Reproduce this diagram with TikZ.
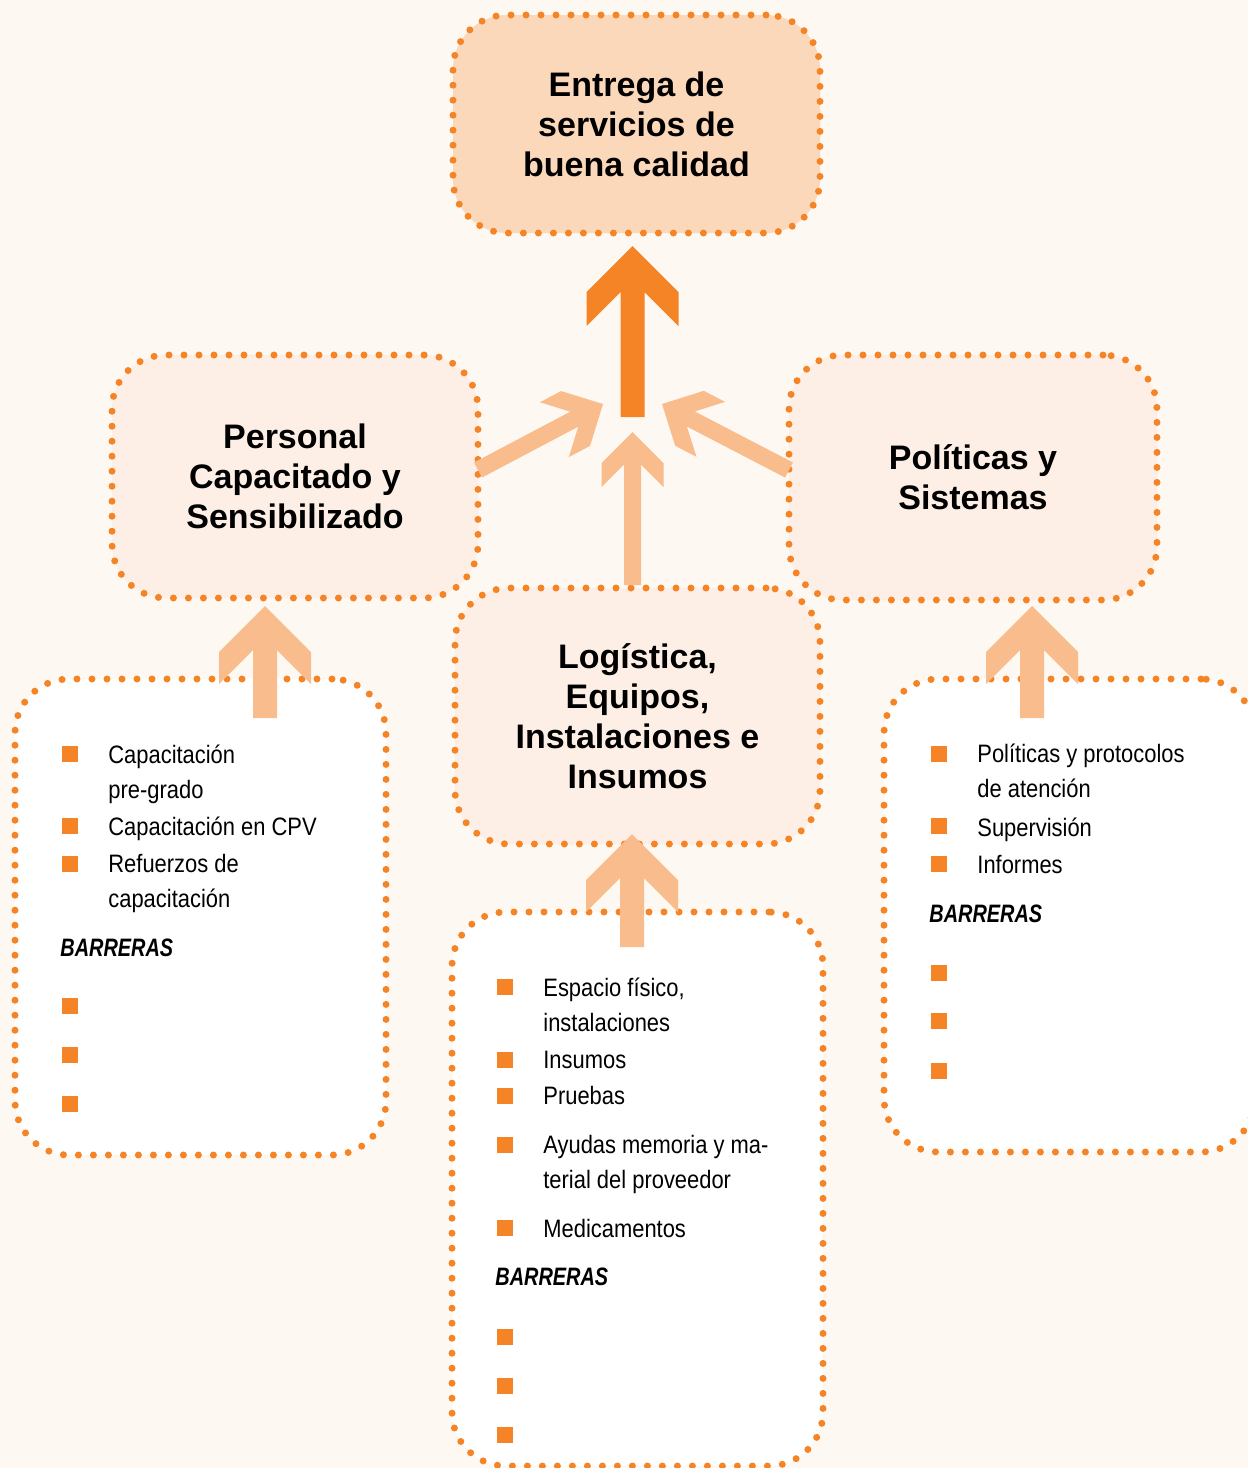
\documentclass[tikz,border=0pt]{standalone}
\usepackage{fontspec}
\setmainfont{Liberation Sans}
\newfontfamily\narrowfont[FakeStretch=0.87]{Liberation Sans}
\newfontfamily\barfont[FakeStretch=0.79]{Liberation Sans}
\usetikzlibrary{calc}

\definecolor{bgcream}{HTML}{FEF8F2}
\definecolor{dotorange}{HTML}{F58426}
\definecolor{darkarrow}{HTML}{F58426}
\definecolor{lightarrow}{HTML}{F9BD8D}
\definecolor{goalfill}{HTML}{FCD8BB}
\definecolor{areafill}{HTML}{FDEFE5}

\tikzset{
  dotbox/.style={draw=dotorange, line width=3.5pt, dash pattern=on 0pt off 7.5pt,
    line cap=round, rounded corners=27pt, inner sep=0pt, align=center},
  goalbox/.style={dotbox, fill=goalfill, font=\fontsize{17}{20}\selectfont\bfseries},
  areabox/.style={dotbox, fill=areafill, font=\fontsize{17}{20}\selectfont\bfseries},
  listbox/.style={dotbox, fill=white, minimum width=185.5pt},
  entry/.style={anchor=north west, inner sep=0pt, align=left,
    font=\narrowfont\fontsize{12.6}{17.5}\selectfont, execute at begin node=\strut},
  barrier/.style={entry, font=\barfont\fontsize{12.6}{17.5}\selectfont\bfseries\itshape},
  sq/.style={fill=dotorange, minimum size=8pt, inner sep=0pt}
}

% chevron arrow: colour, tail, tip, half shaft, half head, arm
\newcommand\chevron[6]{%
  \fill[#1] (#3)
    -- ($(#3)!#5!(#2)!#5!90:(#2)$)
    -- ($(#3)!#5+#6!(#2)!#5!90:(#2)$)
    -- ($(#3)!#4+#6!(#2)!#4!90:(#2)$)
    -- ($(#2)!#4!-90:(#3)$)
    -- ($(#2)!#4!90:(#3)$)
    -- ($(#3)!#4+#6!(#2)!#4!-90:(#2)$)
    -- ($(#3)!#5+#6!(#2)!#5!-90:(#2)$)
    -- ($(#3)!#5!(#2)!#5!-90:(#2)$)
    -- cycle;}

\begin{document}
\begin{tikzpicture}[x=0.5pt,y=-0.5pt]
\useasboundingbox (0,0) rectangle (1248,1468);
\clip (0,0) rectangle (1248,1468);
\fill[bgcream] (0,0) rectangle (1248,1468);

% boxes
\node (goal) at (636.5,124) [goalbox,minimum width=183.5pt,minimum height=109pt] {Entrega de\\servicios de\\buena calidad};
\node (pers) at (295,476.5) [areabox,minimum width=183pt,minimum height=121.5pt] {Personal\\Capacitado y\\Sensibilizado};
\node (pol) at (973,477.5) [areabox,minimum width=184pt,minimum height=122.5pt] {Políticas y\\Sistemas};
\node (log) at (637.5,716) [areabox,minimum width=182.5pt,minimum height=128pt] {Logística,\\Equipos,\\Instalaciones e\\Insumos};
\node (plist) at (200.5,917) [listbox,minimum height=238pt] {};
\node (llist) at (637.5,1189) [listbox,minimum height=277pt] {};
\node (rlist) at (1069.5,915.5) [listbox,minimum height=236.5pt] {};

% arrows
\coordinate (hub) at (632.5,417);
\coordinate (goaltip) at (632.5,246);
\coordinate (midtail) at (632.5,585);
\coordinate (midtip) at (632.5,432);
\coordinate (ltail) at (478,470);
\coordinate (ltip) at (603,404);
\coordinate (rtail) at (789,470);
\coordinate (rtip) at (662,404);
\coordinate (ptail) at (265,718);
\coordinate (ptip) at (265,606);
\coordinate (qtail) at (1032,718);
\coordinate (qtip) at (1032,606);
\coordinate (mtail) at (632,947);
\coordinate (mtip) at (632,834);
\chevron{darkarrow}{hub}{goaltip}{6pt}{23pt}{17pt}
\chevron{lightarrow}{midtail}{midtip}{4.25pt}{15.5pt}{12pt}
\chevron{lightarrow}{ltail}{ltip}{4.25pt}{15.5pt}{12pt}
\chevron{lightarrow}{rtail}{rtip}{4.25pt}{15.5pt}{12pt}
\chevron{lightarrow}{ptail}{ptip}{6pt}{23pt}{16pt}
\chevron{lightarrow}{qtail}{qtip}{6pt}{23pt}{16pt}
\chevron{lightarrow}{mtail}{mtip}{6pt}{23pt}{16pt}

% personal
\node (p1) at (108,745) [entry] {Capacitación\\pre-grado};
\node (p2) at (108,810.5) [entry] {Capacitación en CPV};
\node (p3) at (108,854) [entry] {Refuerzos de\\capacitación};
\node (pbar) at (60,931.5) [barrier] {BARRERAS};
\foreach \y [count=\i] in {754,826,864,1006,1055,1104}
  \node (pb\i) at (69.5,\y) [sq] {};

% logistica
\node (l1) at (543,978) [entry] {Espacio físico,\\instalaciones};
\node (l2) at (543,1043.5) [entry] {Insumos};
\node (l3) at (543,1079.5) [entry] {Pruebas};
\node (l4) at (543,1135) [entry] {Ayudas memoria y ma-\\terial del proveedor};
\node (l5) at (543,1212.5) [entry] {Medicamentos};
\node (lbar) at (495,1260.5) [barrier] {BARRERAS};
\foreach \y [count=\i] in {987,1059.5,1096,1145,1228,1337,1386,1435}
  \node (lb\i) at (505,\y) [sq] {};

% politicas
\node (r1) at (977,744) [entry] {Políticas y protocolos\\de atención};
\node (r2) at (977,811.5) [entry] {Supervisión};
\node (r3) at (977,848.5) [entry] {Informes};
\node (rbar) at (929,897.5) [barrier] {BARRERAS};
\foreach \y [count=\i] in {754,826,864,973,1021,1071}
  \node (rb\i) at (938.5,\y) [sq] {};
\end{tikzpicture}
\end{document}
